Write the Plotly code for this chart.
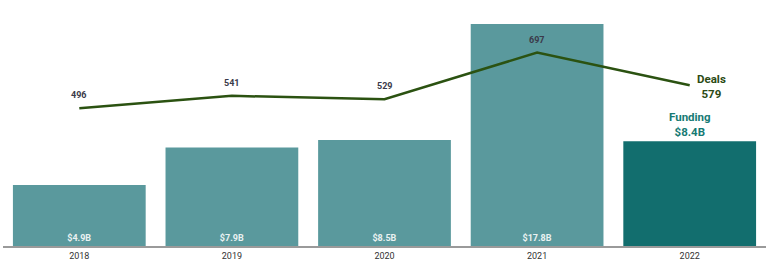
import plotly.graph_objects as go

years = ["2018", "2019", "2020", "2021", "2022"]
funding = [4.9, 7.9, 8.5, 17.8, 8.4]
deals = [496, 541, 529, 697, 579]
funding_labels = ["$4.9B", "$7.9B", "$8.5B", "$17.8B", "$8.4B"]
deal_labels = ["496", "541", "529", "697", "579"]

bar_colors = ["#5a999d"] * 4 + ["#126e6e"]

fig = go.Figure()
fig.add_trace(go.Bar(
    x=years, y=funding, marker=dict(color=bar_colors, line=dict(width=0)),
    text=["<b>" + t + "</b>" for t in funding_labels[:-1]] + [""],
    textposition="inside", insidetextanchor="start",
    textfont=dict(family="Roboto", size=9, color="#eaf2f2"),
    textangle=0, hoverinfo="skip", yaxis="y"))
fig.add_trace(go.Scatter(
    x=years, y=deals, mode="lines", line=dict(color="#2b5211", width=2.5),
    yaxis="y2", hoverinfo="skip"))

n = len(years)
for i in range(n - 1):
    fig.add_annotation(x=i, y=deals[i], yref="y2", text="<b>" + deal_labels[i] + "</b>",
                       showarrow=False, yshift=13,
                       font=dict(family="Roboto", size=9, color="#3a3a4a"))

fig.add_annotation(x=n - 1, y=deals[-1], yref="y2",
                   text="<b>Deals</b><br><b>" + deal_labels[-1] + "</b>",
                   showarrow=False, xshift=22, yshift=-1, align="center",
                   font=dict(family="Roboto", size=11.5, color="#2b4a14"))
fig.add_annotation(x=n - 1, y=funding[-1], yref="y",
                   text="<b>Funding</b><br><b>" + funding_labels[-1] + "</b>",
                   showarrow=False, yshift=0, yanchor="bottom", align="center",
                   font=dict(family="Roboto", size=11.5, color="#167a74"))

fig.update_layout(
    width=769, height=274, margin=dict(l=3, r=3, t=24, b=28),
    paper_bgcolor="white", plot_bgcolor="white", showlegend=False,
    bargap=0.13,
    xaxis=dict(type="category", range=[-0.5, n - 0.5], showline=True,
               linecolor="#9a9a9a", linewidth=2,
               ticks="", tickfont=dict(family="Roboto", size=9, color="#333333"),
               showgrid=False, zeroline=False),
    yaxis=dict(range=[0, 17.8], visible=False, showgrid=False, zeroline=False),
    yaxis2=dict(range=[0, 800], overlaying="y", visible=False, showgrid=False,
                zeroline=False),
)
fig.write_html("out.html")
